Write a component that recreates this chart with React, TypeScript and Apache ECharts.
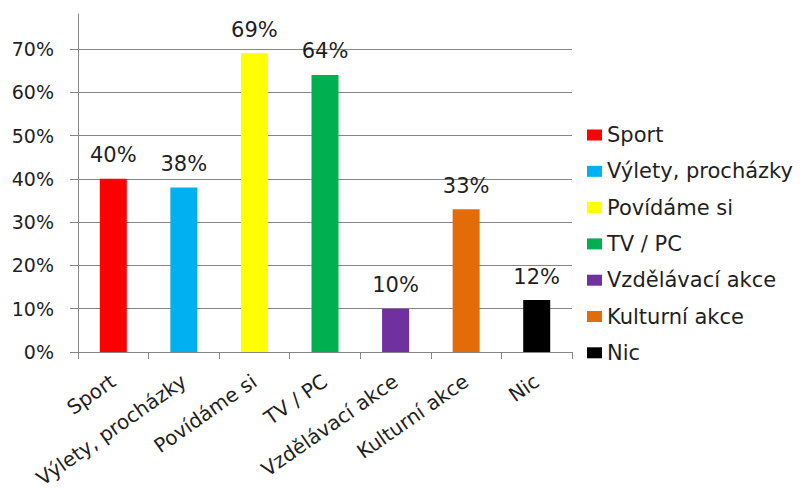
import React, { useEffect, useRef } from "react";
import * as echarts from "echarts";

const categories = ["Sport", "Výlety, procházky", "Povídáme si", "TV / PC", "Vzdělávací akce", "Kulturní akce", "Nic"];
const values = [0.40, 0.38, 0.69, 0.64, 0.10, 0.33, 0.12];
const colors = ["#FF0000", "#00B0F0", "#FFFF00", "#00B050", "#7030A0", "#E36C09", "#000000"];
const yTicks = [0, 0.1, 0.2, 0.3, 0.4, 0.5, 0.6, 0.7];

const FONT = "DejaVu Sans";
const TEXT = "#1f1f1f";
const AXIS = "#868686";

export default function App() {
  const ref = useRef<HTMLDivElement>(null);
  useEffect(() => {
    const chart = echarts.init(ref.current!, null, { renderer: "svg" });
    const pct = (v: number) => Math.round(v * 100) + "%";
    const series: any[] = categories.map((name, i) => ({
      name,
      type: "bar",
      xAxisIndex: 0,
      yAxisIndex: 0,
      barWidth: 27,
      barGap: "-100%",
      itemStyle: { color: colors[i] },
      label: {
        show: true,
        position: "top",
        distance: 13,
        formatter: (p: any) => pct(p.value),
        fontFamily: FONT,
        fontSize: 21,
        color: TEXT,
      },
      data: categories.map((_, j) => (j === i ? values[i] : "-")),
    }));
    chart.setOption({
      animation: false,
      backgroundColor: "#ffffff",
      textStyle: { fontFamily: FONT },
      grid: [
        { left: 78, right: 235, top: 49, bottom: 142, containLabel: false },
        { left: 78, right: 235, top: 14, bottom: 142, containLabel: false },
      ],
      legend: {
        orient: "vertical",
        left: 582,
        top: 118,
        itemWidth: 15,
        itemHeight: 11,
        itemGap: 12.3,
        icon: "rect",
        data: categories,
        textStyle: { fontFamily: FONT, fontSize: 21, color: TEXT, lineHeight: 24 },
      },
      xAxis: [
        {
          type: "category",
          gridIndex: 0,
          data: categories,
          axisLine: { lineStyle: { color: AXIS, width: 1 } },
          axisTick: { show: true, length: 7, alignWithLabel: false, lineStyle: { color: AXIS } },
          axisLabel: { rotate: 35, margin: 27, interval: 0, fontFamily: FONT, fontSize: 20, color: TEXT },
          splitLine: { show: false },
        },
        { type: "category", gridIndex: 1, data: categories, show: false },
      ],
      yAxis: [
        {
          type: "value",
          gridIndex: 0,
          min: yTicks[0],
          max: yTicks[yTicks.length - 1],
          interval: 0.1,
          axisLine: { show: true, lineStyle: { color: AXIS, width: 1 } },
          axisTick: { show: true, length: 8, lineStyle: { color: AXIS } },
          axisLabel: { margin: 24, formatter: (v: number) => pct(v), fontFamily: FONT, fontSize: 19, color: TEXT },
          splitLine: { show: true, lineStyle: { color: AXIS, width: 1 } },
        },
        {
          type: "value",
          gridIndex: 1,
          min: 0,
          max: 1,
          axisLine: { show: true, lineStyle: { color: AXIS, width: 1 } },
          axisTick: { show: false },
          axisLabel: { show: false },
          splitLine: { show: false },
        },
      ],
      series,
    });
    return () => chart.dispose();
  }, []);
  return <div ref={ref} style={{ width: 807, height: 494, margin: -8 }} />;
}
